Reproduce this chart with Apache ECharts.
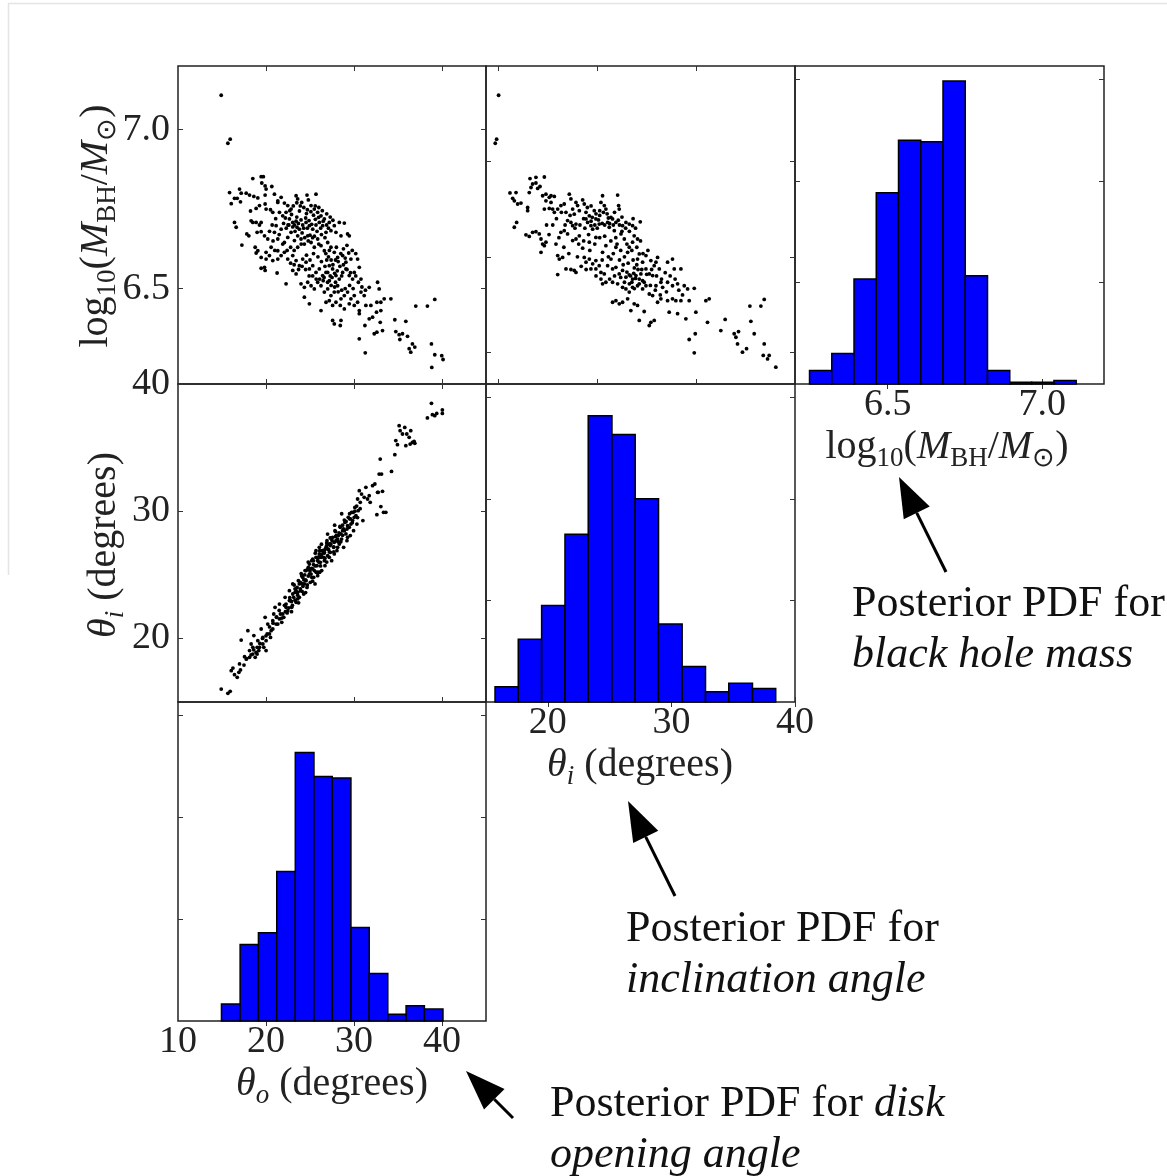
<!DOCTYPE html>
<html>
<head>
<meta charset="utf-8">
<script src="https://cdn.jsdelivr.net/npm/echarts@6/dist/echarts.min.js"></script>
<style>
html,body{margin:0;padding:0;background:#fff;}
#main{width:1167px;height:1176px;}
</style>
</head>
<body>
<div id="main"></div>
<script>
// posterior samples
var massVsOpening = [
[14.91,7.108],[15.67,6.957],[15.93,6.970],
[18.50,6.846],[19.45,6.852],[19.70,6.852],[19.52,6.832],[19.90,6.823],[20.01,6.813],[20.66,6.821],
[15.86,6.802],[16.99,6.813],[17.18,6.800],[16.42,6.784],[16.73,6.784],[16.05,6.767],[17.10,6.773],
[17.75,6.800],[18.13,6.794],[18.62,6.790],[19.07,6.785],[19.90,6.794],[20.96,6.797],[21.34,6.776],
[18.24,6.744],[18.88,6.752],[19.26,6.761],[19.90,6.766],[20.01,6.750],[20.51,6.748],[20.77,6.740],
[16.42,6.708],[16.61,6.693],[17.26,6.637],[17.82,6.672],[18.05,6.666],[18.31,6.713],[18.50,6.708],[18.88,6.708],[19.26,6.700],[19.45,6.708],
[18.99,6.677],[19.45,6.679],[19.83,6.666],[20.20,6.656],[18.77,6.630],[19.07,6.619],[18.88,6.612],
[19.45,6.598],[20.01,6.593],[20.39,6.604],[20.77,6.588],[19.83,6.567],[19.45,6.564],[19.90,6.557],[21.26,6.549],[21.34,6.593],
[21.34,6.771],[21.72,6.787],[22.09,6.769],[22.47,6.761],[22.85,6.750],[23.42,6.792],[23.60,6.782],[24.06,6.771],[24.66,6.794],[24.81,6.779],
[25.12,6.761],[25.68,6.797],[25.49,6.750],[25.87,6.740],[26.25,6.729],[26.63,6.719],[27.19,6.708],[27.76,6.698],[28.33,6.708],[28.90,6.706],
[21.53,6.740],[21.90,6.729],[22.28,6.740],[22.66,6.719],[23.04,6.708],[23.23,6.700],[23.53,6.693],[23.79,6.687],[24.17,6.700],[24.55,6.708],
[24.93,6.698],[25.31,6.687],[25.68,6.700],[26.06,6.708],[26.44,6.698],[26.82,6.677],[27.38,6.682],[27.95,6.677],[28.52,6.666],[29.27,6.672],[29.46,6.666],
[21.15,6.698],[20.96,6.677],[21.34,6.656],[21.72,6.687],[22.09,6.645],[22.47,6.661],[22.85,6.677],[23.23,6.651],[23.60,6.666],[23.98,6.656],
[24.36,6.640],[24.74,6.666],[25.12,6.645],[25.49,6.630],[25.87,6.656],[26.25,6.635],[26.63,6.619],[27.01,6.645],[27.38,6.630],[27.76,6.614],
[28.14,6.598],[28.71,6.604],[29.08,6.583],[29.65,6.593],[30.41,6.593],[30.60,6.567],
[20.01,6.614],[20.58,6.630],[21.34,6.619],[21.72,6.604],[22.09,6.614],[22.47,6.593],[23.04,6.604],[23.42,6.588],[23.79,6.572],[24.17,6.593],
[24.55,6.583],[24.93,6.562],[25.31,6.572],[25.68,6.551],[26.06,6.562],[26.44,6.541],[26.82,6.551],[27.19,6.572],[27.57,6.562],[27.95,6.541],
[28.33,6.530],[28.71,6.551],[29.08,6.562],[29.46,6.541],[29.84,6.530],[30.03,6.551],[30.79,6.530],
[22.28,6.515],[23.04,6.557],[23.42,6.546],[23.98,6.515],[24.36,6.504],[24.74,6.520],[25.12,6.509],[25.49,6.499],[25.87,6.520],[26.25,6.509],
[26.63,6.489],[27.01,6.499],[27.38,6.478],[27.76,6.489],[28.14,6.509],[28.52,6.468],[28.90,6.478],[29.27,6.489],[29.65,6.468],[30.03,6.478],
[30.41,6.457],[30.79,6.489],[31.16,6.478],[31.73,6.504],[31.92,6.447],[32.68,6.520],[32.86,6.499],[32.60,6.457],[33.05,6.457],[33.43,6.468],[34.19,6.468],
[24.36,6.473],[24.93,6.452],[26.25,6.431],[26.82,6.457],[27.19,6.462],[27.57,6.447],[27.95,6.457],[28.44,6.447],[28.90,6.436],[29.46,6.452],
[30.03,6.447],[30.60,6.431],[30.60,6.421],[31.35,6.447],
[27.57,6.400],[27.76,6.389],[28.52,6.400],[28.44,6.384],[30.60,6.342],[31.24,6.384],[31.28,6.298],[31.73,6.405],[32.11,6.410],[32.56,6.426],
[33.05,6.431],[32.98,6.394],[32.30,6.358],[32.60,6.363],[33.24,6.368],
[34.64,6.402],[34.75,6.365],[35.13,6.355],[35.21,6.340],[35.51,6.358],[35.89,6.397],[36.08,6.350],[36.27,6.311],[36.45,6.300],[36.64,6.326],
[36.91,6.316],[37.02,6.445],[38.34,6.445],[39.18,6.466],[38.80,6.326],[39.18,6.292],[38.84,6.252],[39.97,6.289],[40.12,6.277],
[23.04,6.694],[23.42,6.712],[23.68,6.705],[23.98,6.716],[24.28,6.690],[24.51,6.722],[24.89,6.714],[25.19,6.702],[25.61,6.718],[25.98,6.724],
[26.21,6.690],[26.89,6.700],[23.30,6.680],[24.10,6.675],[25.00,6.668],[22.90,6.733],[23.80,6.744],[24.60,6.736],[25.40,6.731],[26.50,6.712],
[27.01,6.551],[27.30,6.540],[27.50,6.535],[27.80,6.548],[28.10,6.556],[27.20,6.525],[27.90,6.520],[26.60,6.535],[28.60,6.540],[27.60,6.575],
[28.20,6.585],[26.90,6.590],[29.00,6.596],[29.40,6.612],[29.80,6.620],[30.20,6.610],[28.80,6.625],[29.20,6.636],
[22.0,6.705],[22.3,6.690],[22.6,6.700],[22.2,6.722],[22.7,6.745],[23.1,6.760],[23.5,6.770],[23.9,6.760],[24.3,6.755],[24.7,6.748],
[25.1,6.742],[25.6,6.760],[26.0,6.755],[26.4,6.745],[26.9,6.735],[27.3,6.725],[27.6,6.715],[27.1,6.690],[26.7,6.660],[26.3,6.670],
[25.8,6.680],[25.5,6.665],[24.8,6.650],[24.4,6.660],[24.0,6.640],[23.6,6.630],[23.2,6.620],[22.8,6.630],[22.4,6.620],[21.9,6.640],
[21.5,6.670],[21.1,6.720],[20.7,6.700],[20.4,6.680],[20.8,6.650],[21.0,6.620],[24.6,6.605],[25.0,6.590],[25.4,6.610],[25.9,6.600],
[26.3,6.585],[26.7,6.570],[27.1,6.600],[27.4,6.590],[27.9,6.590],[28.4,6.570],[28.8,6.575],[29.2,6.560],[29.6,6.550],[30.2,6.540],
[30.5,6.520],[30.9,6.505],[31.3,6.495],[29.9,6.500],[29.5,6.510],[29.0,6.500],[28.6,6.495],[28.2,6.490],[27.8,6.505],[27.4,6.510],
[27.0,6.520],[26.5,6.525],[26.1,6.530],[25.7,6.530],[25.3,6.540],[24.9,6.540],[24.5,6.560],[24.1,6.570],[23.7,6.560],[23.2,6.575],
[22.8,6.580],[26.8,6.610],[27.2,6.620],[28.0,6.630],[28.5,6.610],[26.0,6.640],[25.3,6.660],[24.7,6.690],[23.5,6.725],[22.5,6.700]
];

var massVsInclination = [
[16.02,7.108],[15.75,6.957],[15.86,6.970],
[16.94,6.801],[17.43,6.802],[17.16,6.784],[17.29,6.776],[17.56,6.766],[17.83,6.769],[18.37,6.755],[18.37,6.745],[18.50,6.802],[18.64,6.818],
[18.56,6.846],[18.77,6.829],[19.04,6.850],[19.04,6.832],[19.18,6.815],[19.37,6.821],[19.72,6.851],[19.58,6.792],[19.85,6.797],[20.12,6.787],
[20.26,6.792],[20.53,6.790],[19.85,6.776],[20.26,6.771],[19.72,6.750],[20.12,6.752],[20.39,6.750],[20.53,6.740],[20.80,6.750],
[17.29,6.693],[17.48,6.708],[18.23,6.669],[18.50,6.664],[18.77,6.677],[19.04,6.679],[19.31,6.672],[19.45,6.656],[19.72,6.635],[19.85,6.646],
[19.45,6.614],[19.58,6.640],[20.66,6.640],[20.80,6.604],[20.93,6.593],[21.20,6.598],[21.47,6.562],[21.87,6.560],[22.14,6.557],[22.28,6.551],[20.80,6.544],
[21.06,6.761],[21.33,6.766],[21.47,6.740],[21.74,6.797],[21.87,6.782],[22.01,6.750],[22.14,6.734],[22.28,6.771],[22.41,6.761],[22.55,6.745],
[22.82,6.779],[22.95,6.766],[23.09,6.740],[21.60,6.714],[21.87,6.708],[22.01,6.698],[22.28,6.703],[21.06,6.677],[21.33,6.682],[21.60,6.672],
[22.01,6.651],[22.28,6.656],[22.55,6.666],[22.82,6.627],[23.09,6.719],[23.22,6.708],[23.36,6.729],[23.49,6.698],[23.63,6.687],[23.76,6.745],
[23.89,6.719],[24.16,6.703],[24.30,6.771],[24.43,6.792],[24.57,6.761],[24.70,6.750],[24.84,6.708],[24.97,6.693],[25.11,6.724],[25.24,6.719],
[25.38,6.682],[25.51,6.708],[25.65,6.794],[25.73,6.761],[25.78,6.750],[25.92,6.672],[26.05,6.698],[26.19,6.656],[26.32,6.708],[26.59,6.703],
[26.86,6.698],[26.99,6.666],[27.26,6.656],[27.48,6.710],[26.59,6.630],[26.86,6.646],[26.46,6.614],[25.51,6.630],[24.70,6.635],[24.43,6.614],
[23.89,6.661],[23.36,6.646],[22.95,6.598],[23.09,6.583],[23.36,6.593],[23.63,6.578],[23.89,6.588],[24.16,6.572],[23.49,6.562],[23.89,6.562],
[24.30,6.551],[24.57,6.546],[24.84,6.572],[25.11,6.593],[25.24,6.562],[25.51,6.567],[25.78,6.546],[26.05,6.557],[26.32,6.536],[26.59,6.543],
[26.86,6.530],[27.13,6.541],[27.40,6.530],[27.53,6.546],[27.67,6.525],[27.94,6.562],[28.21,6.546],[28.48,6.541],[28.61,6.572],[28.75,6.583],
[29.02,6.562],[27.67,6.583],[27.26,6.593],[27.40,6.609],[27.94,6.604],[28.34,6.588],[28.88,6.598],[24.43,6.515],[24.30,6.530],[25.24,6.520],
[25.65,6.515],[26.05,6.504],[26.32,6.499],[26.59,6.489],[26.86,6.504],[27.26,6.509],[27.67,6.499],[27.94,6.509],[28.21,6.483],[28.48,6.478],
[28.75,6.509],[29.15,6.520],[29.29,6.504],[29.69,6.583],[30.09,6.593],[30.23,6.562],[29.69,6.520],[30.09,6.509],[30.50,6.515],[30.77,6.562],
[31.04,6.509],[31.31,6.499],[31.85,6.501],[25.24,6.457],[25.51,6.462],[25.78,6.452],[26.05,6.457],[26.46,6.468],[26.72,6.431],[26.99,6.452],
[27.26,6.447],[27.40,6.400],[27.80,6.428],[28.21,6.384],[28.34,6.394],[28.61,6.400],[28.88,6.457],[29.15,6.468],[29.69,6.462],[29.82,6.426],
[30.09,6.468],[30.36,6.462],[30.50,6.421],[30.77,6.462],[31.17,6.405],[31.44,6.462],[31.98,6.426],[31.44,6.340],[31.93,6.358],[31.85,6.298],
[32.79,6.462],[33.06,6.468],[32.92,6.394],[34.00,6.368],[34.35,6.403],[35.08,6.358],[35.22,6.347],[35.35,6.326],[35.43,6.365],[35.75,6.300],
[36.08,6.311],[36.35,6.445],[36.43,6.397],[36.70,6.358],[37.24,6.445],[37.51,6.466],[37.51,6.326],[37.43,6.290],[37.78,6.279],[37.91,6.290],[38.45,6.253],
[23.50,6.712],[23.80,6.700],[24.10,6.716],[24.40,6.705],[24.00,6.690],[23.60,6.724],[24.90,6.722],[25.30,6.700],[24.20,6.730],[26.70,6.540],
[26.95,6.548],[27.10,6.532],[26.40,6.552],[27.30,6.560],[26.80,6.520],[27.00,6.565],[25.90,6.620],[26.20,6.600],[25.60,6.640],[26.00,6.680],
[22.6,6.700],[22.9,6.720],[23.2,6.755],[23.5,6.760],[23.9,6.735],[24.2,6.745],[24.5,6.740],[24.8,6.735],[25.0,6.705],[25.4,6.740],
[25.7,6.715],[26.0,6.725],[26.3,6.690],[26.6,6.680],[26.9,6.720],[27.1,6.690],[25.5,6.660],[25.1,6.650],[24.6,6.665],[24.2,6.660],
[23.8,6.640],[23.4,6.620],[22.9,6.650],[22.5,6.640],[22.2,6.690],[21.8,6.730],[21.4,6.700],[21.1,6.740],[20.7,6.720],[20.4,6.700],
[20.1,6.670],[19.9,6.700],[20.9,6.660],[21.3,6.630],[21.7,6.610],[22.4,6.600],[22.7,6.570],[23.1,6.560],[23.9,6.540],[24.4,6.590],
[24.9,6.600],[25.3,6.610],[25.8,6.590],[26.1,6.575],[26.5,6.580],[26.9,6.590],[27.2,6.575],[27.6,6.560],[28.0,6.545],[28.4,6.560],
[28.8,6.540],[29.2,6.530],[29.5,6.550],[29.9,6.540],[30.3,6.530],[30.6,6.495],[30.9,6.480],[29.6,6.490],[29.1,6.480],[28.7,6.495],
[28.3,6.510],[27.8,6.520],[27.4,6.515],[27.0,6.500],[26.6,6.515],[26.2,6.520],[25.9,6.535],[25.4,6.540],[25.0,6.530],[24.7,6.520],
[26.4,6.640],[26.8,6.620],[27.2,6.630],[27.7,6.610],[28.1,6.620],[27.5,6.650],[23.0,6.690],[23.3,6.670],[24.6,6.700],[25.8,6.700]
];

var inclinationVsOpening = [
[14.91,16.02],[15.67,15.68],[15.93,15.84],[16.05,17.46],[16.24,17.67],[16.42,17.15],[16.73,16.94],[16.92,17.33],[17.10,17.52],[16.99,17.99],
[17.18,19.87],[17.56,18.56],[17.75,18.38],[17.94,20.61],[18.13,19.04],[18.31,19.56],[18.50,19.30],[18.62,20.22],[18.77,18.51],[18.99,18.77],
[19.07,19.82],[19.18,19.04],[19.45,20.74],[19.64,20.08],[19.75,19.30],[19.90,21.66],[20.01,19.04],[20.13,20.35],[20.20,21.13],[20.51,20.08],
[20.58,20.61],[20.77,21.39],[20.88,21.92],[21.03,22.44],[21.19,21.66],[21.34,21.13],[21.53,22.70],[21.64,21.92],[21.79,21.26],[22.02,21.66],
[22.17,23.23],[22.28,22.70],[22.47,22.18],[22.66,23.75],[22.77,22.97],[22.92,22.44],[23.04,24.28],[23.15,23.23],[23.30,23.62],[23.42,22.84],
[23.53,24.01],[23.68,24.54],[23.79,23.23],[23.91,23.75],[24.06,24.93],[24.17,24.28],[24.28,23.49],[24.44,25.33],[24.55,24.54],[24.66,24.01],
[24.81,25.59],[24.93,25.06],[25.04,24.41],[25.19,26.11],[25.31,25.46],[25.42,24.80],[25.57,24.28],[25.68,26.37],[25.80,25.72],[25.87,24.93],
[26.06,26.64],[26.17,25.98],[26.33,25.33],[26.44,26.90],[26.55,26.37],[26.70,25.72],[26.82,27.16],[26.93,27.68],[27.01,26.50],[27.19,27.42],
[27.31,26.77],[27.46,26.11],[27.57,27.95],[27.69,27.16],[27.84,28.47],[27.95,27.68],[28.06,26.90],[28.22,28.08],[28.33,27.42],[28.44,28.73],
[28.59,27.81],[28.71,28.47],[28.82,27.16],[28.97,29.12],[29.08,28.21],[29.20,27.68],[29.35,29.52],[29.46,28.73],[29.58,28.08],[29.73,29.91],
[29.84,29.26],[29.95,28.47],[30.10,30.30],[30.22,29.65],[30.33,28.99],[30.41,30.96],[30.48,30.04],[30.60,31.61],[30.71,30.70],[30.86,31.35],
[31.01,29.26],[31.16,31.09],[31.35,31.88],[31.54,30.96],[31.73,31.22],[31.84,30.70],[32.11,32.01],[32.37,32.14],[32.60,29.73],[32.75,31.48],
[32.86,32.92],[33.05,30.36],[33.13,32.92],[33.24,31.56],[33.36,29.91],[33.62,29.91],[34.26,33.13],[34.64,34.44],[34.75,35.55],[34.94,35.23],
[35.13,36.72],[35.24,36.33],[35.51,36.07],[35.77,36.59],[35.89,35.15],[36.00,36.07],[36.27,35.81],[36.38,35.28],[36.45,36.33],[36.64,35.41],
[36.83,35.49],[36.91,35.34],[38.34,37.33],[38.80,38.48],[38.91,37.59],[39.18,37.51],[39.40,37.69],[40.04,37.96],[40.04,37.69],[32.98,34.10],[32.68,31.48],
[24.93,25.85],[25.31,26.24],[25.68,26.90],[26.06,27.16],[26.25,26.37],[26.63,26.77],[27.01,27.03],[27.38,27.42],[27.76,27.55],[28.14,27.81],
[28.52,28.21],[28.90,28.47],[29.27,28.86],[24.55,25.33],[24.17,24.80],[23.79,24.28],[23.42,23.75],[23.04,23.49],[22.66,22.97],[22.28,22.44],
[21.90,21.92],[21.53,21.53],[21.15,21.13],[20.77,20.74],[20.39,20.35],[20.01,19.82],[19.64,19.56],[19.26,19.30],[18.88,18.90],[18.50,18.77],
[18.13,18.51],[25.87,26.11],[27.19,26.37],[28.14,27.16],[29.27,27.95],[30.03,29.52],[29.65,28.99],[27.76,26.64],[26.63,26.11],[25.49,25.33],
[25.12,25.06],[24.36,24.28],[23.60,23.62],
[26.9,27.3],[27.1,27.0],[27.5,27.7],[27.9,28.0],[28.3,28.3],[28.7,28.9],[26.3,26.6],[26.0,26.0],[25.6,25.7],[25.2,25.5],
[24.8,24.9],[24.5,24.6],[24.2,24.1],[23.9,23.9],[23.6,23.4],[23.3,23.0],[22.9,22.9],[22.6,22.4],[22.2,22.1],[21.8,21.6],
[29.1,29.2],[29.5,29.4],[29.9,29.9],[30.3,30.4],[27.3,27.9],[26.7,27.0],[26.1,26.9],[25.9,25.2],[25.4,26.1],[24.7,25.4],
[22.1,22.6],[22.4,22.0],[22.7,23.2],[23.0,22.6],[23.3,23.9],[23.6,23.1],[23.9,24.4],[24.1,23.7],[24.4,25.0],[24.7,24.2],
[24.9,25.5],[25.2,24.8],[25.4,25.8],[25.7,25.2],[25.9,26.3],[26.2,25.7],[26.4,26.9],[26.7,26.3],[26.9,27.5],[27.2,26.8],
[27.4,27.9],[27.7,27.2],[27.9,28.4],[28.2,27.6],[28.4,28.8],[28.7,28.1],[28.9,29.3],[29.2,28.6],[29.5,29.8],[29.8,29.1],
[30.1,30.0],[30.4,29.5],[23.2,24.2],[24.0,25.1],[24.8,26.0],[25.6,26.7],[26.3,27.4],[27.0,28.2],[27.8,28.9],[28.6,29.8],
[22.9,22.1],[23.7,22.8],[24.5,23.6],[25.3,24.5],[26.1,25.2],[26.9,26.0],[27.7,26.8],[28.5,27.6],[21.5,22.2],[21.2,21.7],
[20.8,21.2],[20.4,20.9],[20.0,20.2],[19.6,20.0],[19.3,19.6],[19.0,19.3],[18.6,19.1],[18.3,18.7],[17.8,18.4],[17.5,17.9],
[26.0,26.4],[26.6,26.7],[27.3,27.3],[25.0,25.3],[24.3,24.6],[23.5,23.6],[28.0,28.1],[28.8,28.6],[29.6,29.4],[30.7,30.2]
];

// histogram bin edges and counts (diagonal panels)
var massEdges = [6.247,6.319,6.391,6.463,6.535,6.607,6.679,6.751,6.823,6.895,6.966,7.038,7.110];
var massCounts = [8,18,62,113,144,143,179,64,8,1,1,2];
var inclEdges = [15.73,17.61,19.50,21.39,23.27,25.19,27.07,28.96,30.87,32.76,34.64,36.56,38.44];
var inclCounts = [9,37,57,99,169,158,120,46,21,6,11,8];
var openEdges = [14.94,17.06,19.14,21.22,23.33,25.45,27.53,29.65,31.73,33.84,35.92,38.00,40.11];
var openCounts = [10,45,52,88,158,144,143,55,28,4,9,7];

// tick values
var openTicks = [20,30,40];
var openLabels = [10,20,30,40];
var inclTicks = [20,30,40];
var inclTicksTop = [16,24,32];
var massTicks = [6.5,7.0];
var massTicksMid = [6.3,6.6,6.9];
var countTicks = [60,120,180];

var FONT = 'Liberation Serif';
var INK = '#222';

function toBins(edges, counts) {
    return counts.map(function (c, i) { return [edges[i], edges[i + 1], c]; });
}

function mkAxis(grid, pos, min, max, ticks, labels, fmt, margin) {
    return {
        type: 'value', gridIndex: grid, position: pos, min: min, max: max,
        axisLine: { show: false },
        splitLine: { show: false },
        axisTick: { show: true, inside: true, length: 5, customValues: ticks,
            lineStyle: { color: '#333', width: 1 } },
        axisLabel: {
            show: !!labels,
            customValues: labels || [],
            showMinLabel: true, showMaxLabel: true,
            margin: margin || 4,
            fontFamily: FONT, fontSize: 38, color: INK,
            formatter: fmt || function (v) { return String(v); }
        }
    };
}
var oneDec = function (v) { return v.toFixed(1); };

var grids = [
    { left: 178, top: 66, width: 308, height: 318 },
    { left: 486, top: 66, width: 309, height: 318 },
    { left: 795, top: 66, width: 309, height: 318 },
    { left: 178, top: 384, width: 308, height: 318 },
    { left: 486, top: 384, width: 309, height: 318 },
    { left: 178, top: 702, width: 308, height: 319 }
].map(function (g) {
    g.show = true; g.borderColor = '#222'; g.borderWidth = 1.5; g.backgroundColor = 'transparent';
    return g;
});

var cmax = 187.8;
var xAxes = [
    mkAxis(0, 'bottom', 10, 45, openTicks), mkAxis(0, 'top', 10, 45, openTicks),
    mkAxis(1, 'bottom', 15, 40, inclTicksTop), mkAxis(1, 'top', 15, 40, inclTicksTop),
    mkAxis(2, 'bottom', 6.2, 7.2, massTicks, massTicks, oneDec, 2), mkAxis(2, 'top', 6.2, 7.2, massTicks),
    mkAxis(3, 'bottom', 10, 45, openTicks), mkAxis(3, 'top', 10, 45, openTicks),
    mkAxis(4, 'bottom', 15, 40, inclTicks, inclTicks, null, 2), mkAxis(4, 'top', 15, 40, inclTicks),
    mkAxis(5, 'bottom', 10, 45, openTicks, openLabels, null, 2), mkAxis(5, 'top', 10, 45, openTicks)
];
var yAxes = [
    mkAxis(0, 'left', 6.2, 7.2, massTicks, massTicks, oneDec, 8), mkAxis(0, 'right', 6.2, 7.2, massTicks),
    mkAxis(1, 'left', 6.2, 7.2, massTicksMid), mkAxis(1, 'right', 6.2, 7.2, massTicksMid),
    mkAxis(2, 'left', 0, cmax, countTicks), mkAxis(2, 'right', 0, cmax, countTicks),
    mkAxis(3, 'left', 15, 40, inclTicks, inclTicks, null, 8), mkAxis(3, 'right', 15, 40, inclTicks),
    mkAxis(4, 'left', 0, cmax, countTicks), mkAxis(4, 'right', 0, cmax, countTicks),
    mkAxis(5, 'left', 0, cmax, countTicks), mkAxis(5, 'right', 0, cmax, countTicks)
];

function scatterSeries(grid, data) {
    return {
        type: 'scatter', xAxisIndex: grid * 2, yAxisIndex: grid * 2,
        data: data, symbol: 'circle', symbolSize: 3.8,
        itemStyle: { color: '#000', opacity: 1 }, silent: true
    };
}
function histSeries(grid, data) {
    return {
        type: 'custom', xAxisIndex: grid * 2, yAxisIndex: grid * 2,
        data: data, encode: { x: [0, 1], y: 2 }, silent: true,
        renderItem: function (params, api) {
            var p0 = api.coord([api.value(0), api.value(2)]);
            var p1 = api.coord([api.value(1), 0]);
            return {
                type: 'rect',
                shape: { x: p0[0], y: p0[1], width: p1[0] - p0[0], height: p1[1] - p0[1] },
                style: { fill: '#0000ff', stroke: '#000', lineWidth: 1.5 }
            };
        }
    };
}

// text helpers
function rich(size) {
    var sub = Math.round(size * 0.68);
    return {
        r: { fontFamily: FONT, fontSize: size, lineHeight: size + 10, fill: INK },
        i: { fontFamily: FONT, fontStyle: 'italic', fontSize: size, lineHeight: size + 10, fill: INK },
        s: { fontFamily: FONT, fontSize: sub, lineHeight: sub, verticalAlign: 'bottom', fill: INK },
        si: { fontFamily: FONT, fontStyle: 'italic', fontSize: sub, lineHeight: sub, verticalAlign: 'bottom', fill: INK }
    };
}
var massName = '{r|log}{s|10}{r|(}{i|M}{s|BH}{r|/}{i|M}{s|⊙}{r|)}';
var inclName = '{i|θ}{si|i}{r| (degrees)}';
var openName = '{i|θ}{si|o}{r| (degrees)}';

function axisName(x, y, text, rot) {
    return { type: 'text', x: x, y: y, rotation: rot || 0, silent: true,
        style: { text: text, rich: rich(40), align: 'center', verticalAlign: 'middle' } };
}
function note(x, y, text) {
    return { type: 'text', x: x, y: y, silent: true,
        style: { text: text, align: 'left', verticalAlign: 'middle',
            rich: {
                n: { fontFamily: FONT, fontSize: 44, fill: '#111' },
                it: { fontFamily: FONT, fontStyle: 'italic', fontSize: 44, fill: '#111' }
            } } };
}
function arrow(tip, tail, hl, hw) {
    var dx = tail[0] - tip[0], dy = tail[1] - tip[1], L = Math.sqrt(dx * dx + dy * dy);
    var ux = dx / L, uy = dy / L;
    var bx = tip[0] + ux * hl, by = tip[1] + uy * hl;
    var px = -uy * hw / 2, py = ux * hw / 2;
    return [
        { type: 'line', silent: true, shape: { x1: bx, y1: by, x2: tail[0], y2: tail[1] },
          style: { stroke: '#000', lineWidth: 3 } },
        { type: 'polygon', silent: true, shape: { points: [tip, [bx + px, by + py], [bx - px, by - py]] },
          style: { fill: '#000' } }
    ];
}

var graphics = [
    { type: 'line', silent: true, shape: { x1: 8, y1: 3.5, x2: 1167, y2: 3.5 }, style: { stroke: '#e4e4e4', lineWidth: 1.5 } },
    { type: 'line', silent: true, shape: { x1: 8.5, y1: 3.5, x2: 8.5, y2: 575 }, style: { stroke: '#e4e4e4', lineWidth: 1.5 } },
    axisName(96, 226, massName, Math.PI / 2),
    axisName(104, 545, inclName, Math.PI / 2),
    axisName(332, 1084, openName),
    axisName(640, 765, inclName),
    axisName(947, 447, massName),
    note(852, 604, '{n|Posterior PDF for}'),
    note(852, 655, '{it|black hole mass}'),
    note(626, 929, '{n|Posterior PDF for}'),
    note(626, 980, '{it|inclination angle}'),
    note(550, 1104, '{n|Posterior PDF for }{it|disk}'),
    note(550, 1155, '{it|opening angle}')
].concat(arrow([899, 477], [946, 572], 40, 29))
 .concat(arrow([628, 801], [675, 896], 40, 28))
 .concat(arrow([466, 1071], [513, 1118], 40, 29));

var myChart = echarts.init(document.getElementById('main'));
var option = {
    backgroundColor: '#fff',
    animation: false,
    grid: grids,
    xAxis: xAxes,
    yAxis: yAxes,
    series: [
        scatterSeries(0, massVsOpening),
        scatterSeries(1, massVsInclination),
        histSeries(2, toBins(massEdges, massCounts)),
        scatterSeries(3, inclinationVsOpening),
        histSeries(4, toBins(inclEdges, inclCounts)),
        histSeries(5, toBins(openEdges, openCounts))
    ],
    graphic: graphics
};
myChart.setOption(option);
</script>
</body>
</html>
